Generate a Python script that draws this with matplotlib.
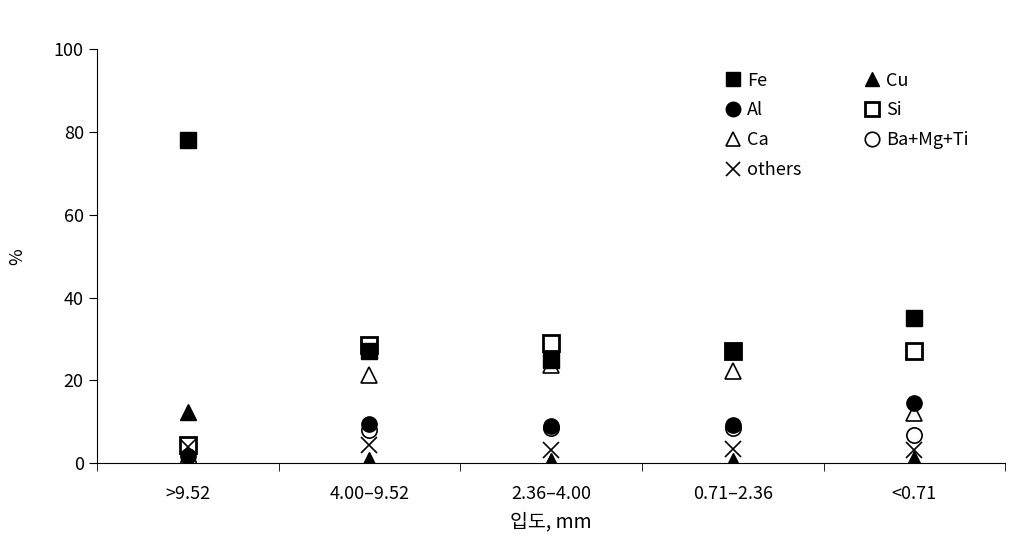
import matplotlib.pyplot as plt
import numpy as np

plt.rcParams['font.family'] = ['Noto Sans CJK KR', 'DejaVu Sans']

categories = ['>9.52', '4.00\u20139.52', '2.36\u20134.00', '0.71\u20132.36', '<0.71']
fe = [78, 27, 25, 27.2, 35]
cu = [12.3, 0.8, 0.4, 0.4, 1.0]
al = [1.8, 9.4, 9.0, 9.2, 14.6]
si = [4.3, 28.6, 29.0, 27.2, 27.0]
ca = [0.5, 21.3, 23.6, 22.2, 12.2]
bamgti = [0.0, 8.0, 8.4, 8.4, 6.7]
others = [4.0, 4.3, 3.1, 3.4, 3.2]

fig = plt.figure(figsize=(10.24, 5.41), dpi=100)
ax = fig.add_axes([0.0947, 0.144, 0.887, 0.765])
x = np.arange(len(categories))

ms = 11
ax.plot(x, bamgti, 'o', mfc='white', mec='black', mew=1.2, ms=ms, ls='none', label='Ba+Mg+Ti')
ax.plot(x, ca, '^', mfc='white', mec='black', mew=1.2, ms=ms, ls='none', label='Ca')
ax.plot(x, si, 's', mfc='white', mec='black', mew=2, ms=ms, ls='none', label='Si')
ax.plot(x, fe, 's', color='black', ms=ms, ls='none', label='Fe')
ax.plot(x, al, 'o', color='black', ms=ms, ls='none', label='Al')
ax.plot(x, cu, '^', color='black', ms=ms, ls='none', label='Cu')
ax.plot(x, others, 'x', color='black', mew=1.2, ms=ms, ls='none', label='others')

ax.set_xlim(-0.5, len(categories) - 0.5)
ax.set_ylim(0, 100)
ax.set_yticks(np.arange(0, 101, 20))
ax.set_xticks(x)
ax.set_xticklabels(categories)
ax.set_xticks(np.arange(-0.5, len(categories), 1), minor=True)
ax.tick_params(axis='x', which='major', length=0, pad=16, labelsize=13)
ax.tick_params(axis='x', which='minor', length=6, direction='out')
ax.tick_params(axis='y', length=6, direction='out', labelsize=13)
for s in ['top', 'right']:
    ax.spines[s].set_visible(False)

ax.set_xlabel('입도, mm', fontsize=14, labelpad=6)
ax.set_ylabel('%', fontsize=13, labelpad=20)

h, l = ax.get_legend_handles_labels()
order = ['Fe', 'Al', 'Ca', 'others', 'Cu', 'Si', 'Ba+Mg+Ti']
hd = dict(zip(l, h))
ax.legend([hd[k] for k in order], order, ncol=2, frameon=False, loc='upper left',
          bbox_to_anchor=(0.67, 0.985), fontsize=13, handletextpad=0.2,
          columnspacing=3.3, labelspacing=0.65, handlelength=1.2, markerscale=0.95)

fig.savefig('out.png', dpi=100)
